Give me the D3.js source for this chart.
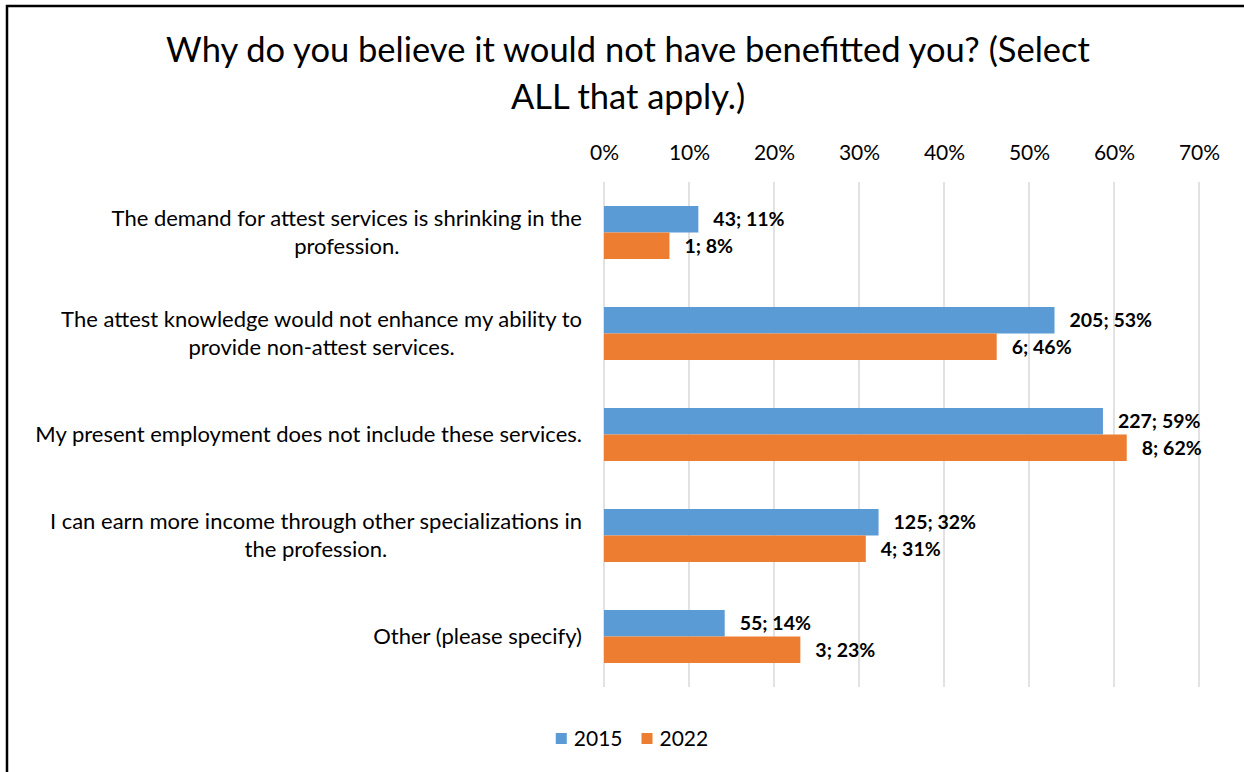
<!DOCTYPE html>
<html>
<head>
<meta charset="utf-8">
<script src="https://cdn.jsdelivr.net/npm/d3@7/dist/d3.min.js"></script>
<style>
  html, body { margin: 0; padding: 0; background: #fff; overflow: hidden; }
  svg { display: block; }
  text { font-family: Lato, "Open Sans", sans-serif; fill: #000; }
</style>
</head>
<body>
<svg id="chart" width="1244" height="772"></svg>
<script>
const categories = [
  "The demand for attest services is shrinking in the profession.",
  "The attest knowledge would not enhance my ability to provide non-attest services.",
  "My present employment does not include these services.",
  "I can earn more income through other specializations in the profession.",
  "Other (please specify)"
];
const categoryLines = [
  ["The demand for attest services is shrinking in the", "profession."],
  ["The attest knowledge would not enhance my ability to", "provide non-attest services."],
  ["My present employment does not include these services."],
  ["I can earn more income through other specializations in", "the profession."],
  ["Other (please specify)"]
];
const seriesNames = ["2015", "2022"];
const counts2015 = [43, 205, 227, 125, 55];
const counts2022 = [1, 6, 8, 4, 3];
const pct2015 = [11.1, 53.0, 58.7, 32.3, 14.2];
const pct2022 = [7.7, 46.2, 61.5, 30.8, 23.1];
const tickValues = [0, 10, 20, 30, 40, 50, 60, 70];
const colors = ["#5B9BD5", "#ED7D31"];
const titleLines = ["Why do you believe it would not have benefitted you? (Select", "ALL that apply.)"];

const svg = d3.select("#chart");

// border (left + top visible)
svg.append("line").attr("x1", 7).attr("x2", 7).attr("y1", 5).attr("y2", 772)
  .attr("stroke", "#000").attr("stroke-width", 2.5);
svg.append("line").attr("x1", 6).attr("x2", 1244).attr("y1", 6).attr("y2", 6)
  .attr("stroke", "#000").attr("stroke-width", 2.5);

// title
svg.append("text").attr("x", 628).attr("y", 62).attr("text-anchor", "middle")
  .style("font-size", "34.5px")
  .selectAll("tspan").data(titleLines).join("tspan")
  .attr("x", 628).attr("dy", (d, i) => i === 0 ? 0 : 47).text(d => d);

const x = d3.scaleLinear().domain([0, 70]).range([604, 1199]);
const y = d3.scaleBand().domain(categories).range([182, 687]).padding(0);
const yInner = d3.scaleBand().domain(seriesNames)
  .range([y.bandwidth() * 0.2376, y.bandwidth() * 0.7624]).padding(0);

// gridlines
svg.append("g").selectAll("line").data(tickValues).join("line")
  .attr("x1", d => x(d)).attr("x2", d => x(d))
  .attr("y1", 182).attr("y2", 687)
  .attr("stroke", "#d9d9d9").attr("stroke-width", 1.5);

// top axis
const axis = d3.axisTop(x).tickValues(tickValues).tickFormat(d => d + "%").tickSize(0).tickPadding(0);
const ag = svg.append("g").attr("transform", "translate(0,160)").call(axis);
ag.select(".domain").remove();
ag.selectAll("text").style("font-size", "21px").style("font-family", "Lato, sans-serif").attr("fill", "#000");

const rows = categories.map((c, i) => ({
  cat: c, lines: categoryLines[i],
  vals: [
    { s: "2015", p: pct2015[i], n: counts2015[i] },
    { s: "2022", p: pct2022[i], n: counts2022[i] }
  ]
}));

const g = svg.append("g").selectAll("g").data(rows).join("g")
  .attr("transform", d => `translate(0,${y(d.cat)})`);

g.selectAll("rect").data(d => d.vals).join("rect")
  .attr("x", x(0))
  .attr("y", d => yInner(d.s))
  .attr("width", d => x(d.p) - x(0))
  .attr("height", yInner.bandwidth())
  .attr("fill", (d, i) => colors[i]);

g.selectAll("text.lbl").data(d => d.vals).join("text").attr("class", "lbl")
  .attr("x", d => x(d.p) + 15)
  .attr("y", d => yInner(d.s) + yInner.bandwidth() / 2)
  .attr("dy", "0.35em")
  .style("font-size", "19.5px").style("font-weight", "bold")
  .text(d => `${d.n}; ${Math.round(d.p)}%`);

// category labels
g.each(function(d) {
  const sel = d3.select(this);
  const t = sel.append("text").style("font-size", "22px").attr("text-anchor", "middle");
  const n = d.lines.length;
  d.lines.forEach((ln, k) => {
    t.append("tspan").attr("x", 0)
      .attr("y", y.bandwidth() / 2 + (k - (n - 1) / 2) * 28)
      .attr("dy", "0.35em").text(ln);
  });
  const w = t.node().getBBox().width;
  t.selectAll("tspan").attr("x", 582 - w / 2);
});

// legend
const legend = svg.append("g");
const items = legend.selectAll("g").data(seriesNames).join("g");
items.append("rect").attr("width", 11).attr("height", 11).attr("y", -6).attr("fill", (d, i) => colors[i]);
items.append("text").attr("x", 18).attr("dy", "0.35em").style("font-size", "21px").text(d => d);
const widths = [];
items.each(function() { widths.push(this.getBBox().width); });
const gap = 19;
const total = widths.reduce((a, b) => a + b, 0) + gap * (widths.length - 1);
let cx = 632 - total / 2;
items.attr("transform", (d, i) => { const tx = cx; cx += widths[i] + gap; return `translate(${tx},739)`; });
</script>
</body>
</html>
